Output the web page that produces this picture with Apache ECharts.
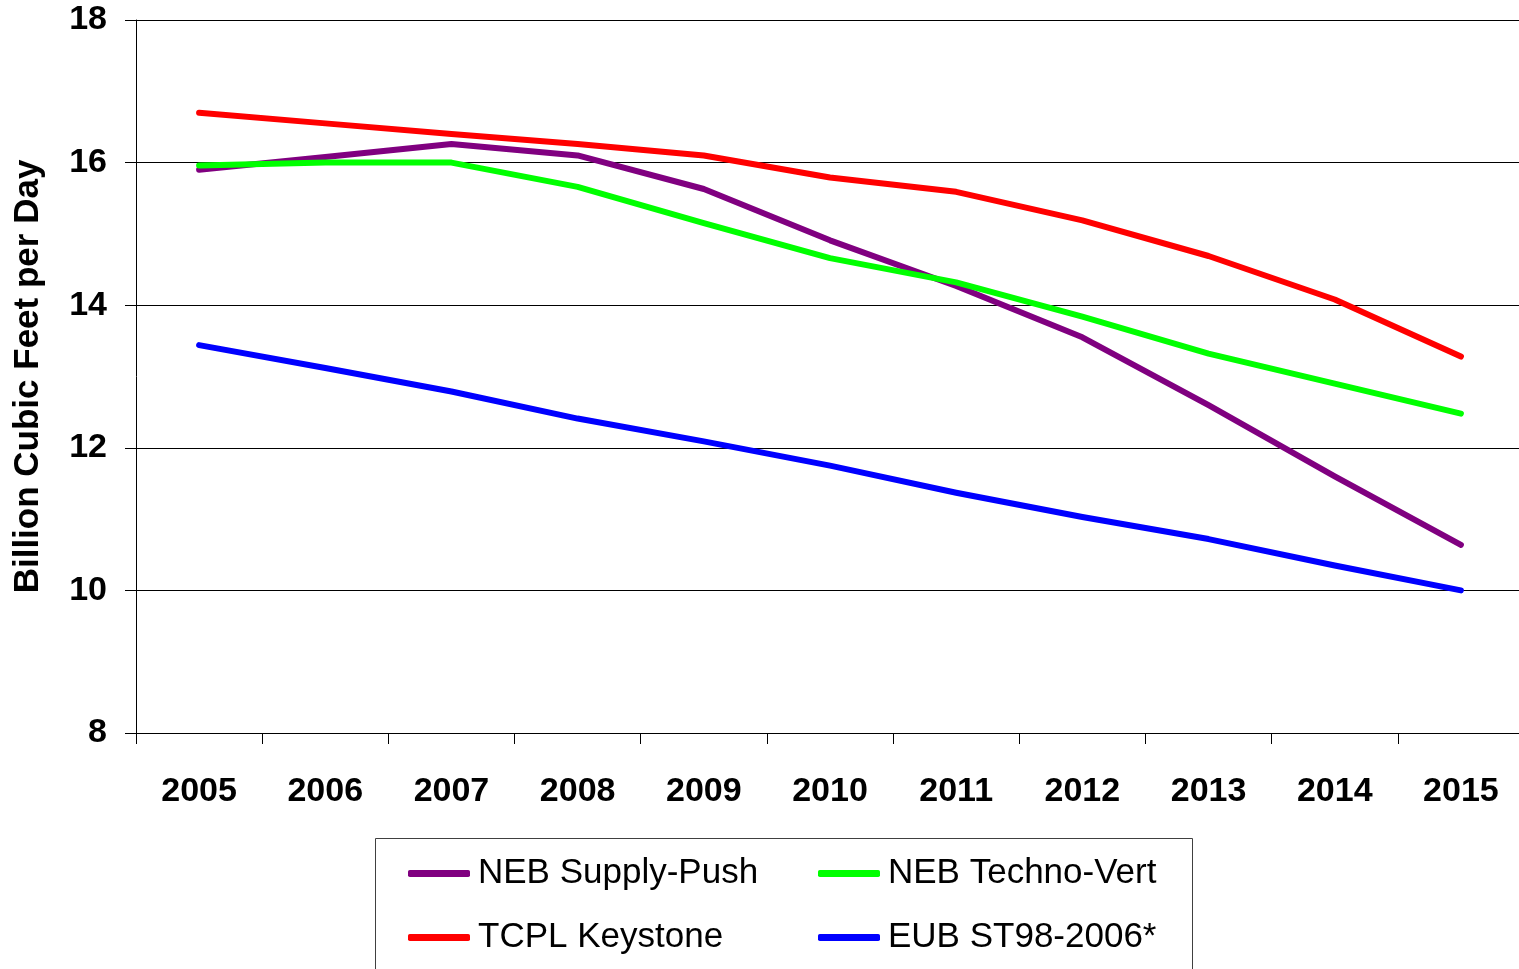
<!DOCTYPE html>
<html>
<head>
<meta charset="utf-8">
<script src="https://cdn.jsdelivr.net/npm/echarts@6/dist/echarts.min.js"></script>
<style>
html,body{margin:0;padding:0;background:#fff;overflow:hidden;width:1519px;height:969px;}
#chart{width:1524px;height:969px;}
</style>
</head>
<body>
<div id="chart"></div>
<script>
const years = ['2005','2006','2007','2008','2009','2010','2011','2012','2013','2014','2015'];
const nebSupplyPush = [15.90, 16.08, 16.26, 16.10, 15.63, 14.91, 14.27, 13.55, 12.60, 11.60, 10.64];
const nebTechnoVert = [15.96, 16.00, 16.00, 15.66, 15.15, 14.66, 14.32, 13.84, 13.32, 12.90, 12.48];
const tcplKeystone = [16.70, 16.55, 16.40, 16.26, 16.10, 15.79, 15.59, 15.19, 14.69, 14.08, 13.28];
const eubST98 = [13.44, 13.12, 12.79, 12.41, 12.09, 11.75, 11.37, 11.03, 10.72, 10.35, 10.00];
const yTicks = {min: 8, max: 18, interval: 2};

const FONT = '"Liberation Sans", Arial, sans-serif';
const chart = echarts.init(document.getElementById('chart'), null, {renderer: 'canvas'});

function lineSeries(name, data, color) {
  return {
    name: name, type: 'line', data: data,
    showSymbol: false, symbol: 'none',
    lineStyle: {color: color, width: 6, cap: 'round', join: 'round'},
    itemStyle: {color: color},
    emphasis: {disabled: true},
    animation: false
  };
}

const legendCommon = {
  orient: 'vertical',
  icon: 'roundRect',
  itemWidth: 62,
  itemHeight: 7,
  itemGap: 29,
  padding: 0,
  top: 856,
  textStyle: {fontFamily: FONT, fontSize: 35, color: '#000', lineHeight: 35, padding: [0, 0, 0, 3]},
  selectedMode: false
};

chart.setOption({
  backgroundColor: '#fff',
  animation: false,
  grid: {left: 136, top: 20, right: 0, bottom: 236, containLabel: false},
  xAxis: {
    type: 'category',
    data: years,
    boundaryGap: true,
    axisLine: {show: true, lineStyle: {color: '#000', width: 1}},
    axisTick: {show: true, length: 11, inside: false, alignWithLabel: false, lineStyle: {color: '#000'}},
    axisLabel: {fontFamily: FONT, fontSize: 34, fontWeight: 'bold', color: '#000', margin: 42, interval: 0},
    splitLine: {show: false}
  },
  yAxis: {
    type: 'value',
    min: yTicks.min, max: yTicks.max, interval: yTicks.interval,
    name: 'Billion Cubic Feet per Day',
    nameLocation: 'middle',
    nameGap: 90,
    nameRotate: 90,
    nameTextStyle: {fontFamily: FONT, fontSize: 35, fontWeight: 'bold', color: '#000'},
    axisLine: {show: true, lineStyle: {color: '#000', width: 1}},
    axisTick: {show: true, length: 11, inside: false, lineStyle: {color: '#000'}},
    axisLabel: {fontFamily: FONT, fontSize: 34, fontWeight: 'bold', color: '#000', margin: 29},
    splitLine: {show: true, lineStyle: {color: '#000', width: 1}}
  },
  legend: [
    Object.assign({}, legendCommon, {left: 408, data: ['NEB Supply-Push', 'TCPL Keystone']}),
    Object.assign({}, legendCommon, {left: 818, data: ['NEB Techno-Vert', 'EUB ST98-2006*']})
  ],
  graphic: [{
    type: 'rect',
    silent: true,
    shape: {x: 375.5, y: 838.5, width: 817, height: 200},
    style: {fill: 'none', stroke: '#404040', lineWidth: 1}
  }],
  series: [
    lineSeries('NEB Supply-Push', nebSupplyPush, '#800080'),
    lineSeries('NEB Techno-Vert', nebTechnoVert, '#00ff00'),
    lineSeries('TCPL Keystone', tcplKeystone, '#ff0000'),
    lineSeries('EUB ST98-2006*', eubST98, '#0000ff')
  ]
});
</script>
</body>
</html>
